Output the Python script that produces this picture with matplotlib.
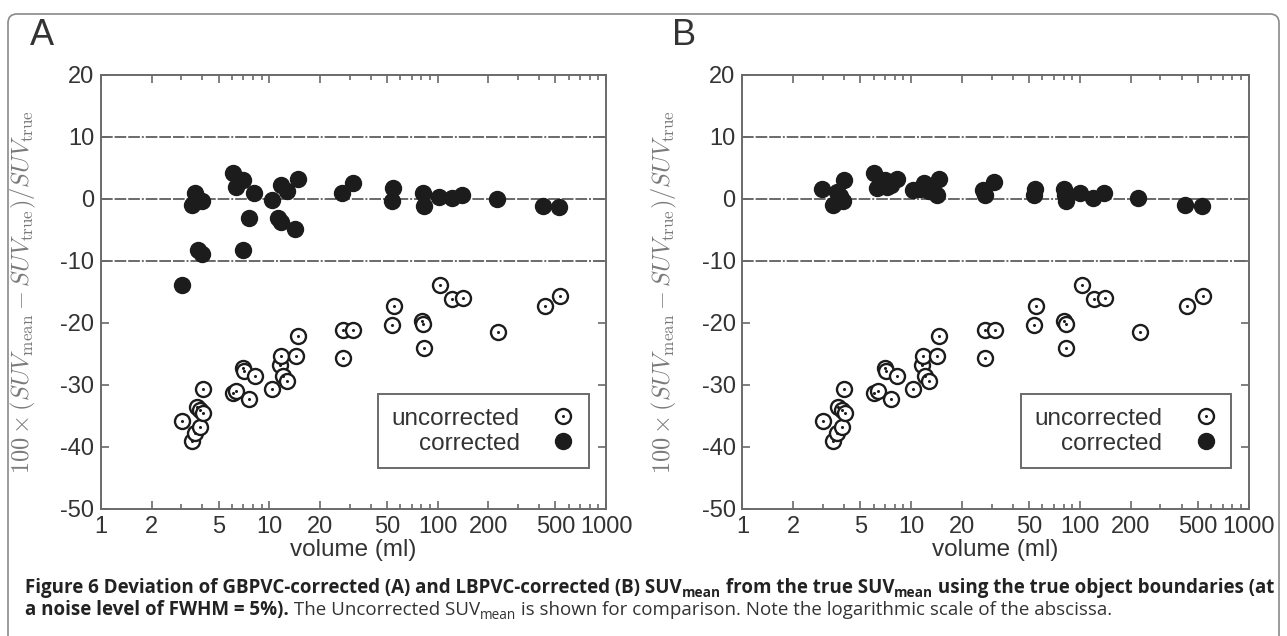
import matplotlib
matplotlib.use("Agg")
import matplotlib.pyplot as plt
from matplotlib.lines import Line2D
from matplotlib.patches import FancyBboxPatch
from matplotlib.transforms import IdentityTransform
from matplotlib.ticker import FixedLocator, NullFormatter

plt.rcParams['mathtext.fontset'] = 'cm'
plt.rcParams['font.family'] = 'Liberation Sans'

# uncorrected SUVmean deviation (same in both panels)
vol_unc = [3.02, 3.46, 3.62, 3.7, 3.87, 3.87, 4.05, 4.02,
           6.06, 6.34, 7.0, 7.1, 8.2, 7.6,
           10.3, 11.6, 11.7, 12.1, 12.8, 14.3, 14.7,
           27.2, 27.2, 31.3, 53.8, 54.7, 80.6, 82.2, 83.2, 103, 122, 141, 228, 431, 535]
dev_unc = [-35.8, -39.1, -37.8, -33.5, -34.0, -36.7, -34.5, -30.7,
           -31.3, -30.9, -27.3, -27.7, -28.5, -32.3,
           -30.7, -26.7, -25.4, -28.5, -29.3, -25.4, -22.1,
           -21.1, -25.6, -21.2, -20.4, -17.3, -19.7, -20.2, -24.1, -13.8, -16.1, -16.0, -21.5, -17.2, -15.7]

# GBPVC corrected (panel A)
vol_gb = [3.01, 3.46, 3.62, 3.7, 3.96, 3.79, 4.0,
          6.11, 6.34, 7.01, 7.0, 7.6, 8.15,
          10.4, 11.3, 11.7, 11.8, 12.7, 14.2, 14.7,
          26.9, 31.6, 53.4, 54.6, 82.2, 83, 102, 121, 139, 224, 425, 529]
dev_gb = [-13.9, -1.0, 0.9, 0.2, -0.4, -8.2, -8.9,
          4.2, 2.0, 3.1, -8.2, -3.1, 1.0,
          -0.1, -3.0, -3.7, 2.3, 1.3, -4.9, 3.3,
          1.0, 2.6, -0.4, 1.7, 1.0, -1.2, 0.4, 0.1, 0.6, -0.05, -1.1, -1.3]

# LBPVC corrected (panel B)
vol_lb = [2.95, 3.45, 3.62, 3.8, 3.95, 4.02,
          6.05, 6.3, 7.0, 7.2, 7.6, 8.2,
          10.3, 11.2, 11.7, 11.9, 12.7, 14.2, 14.6,
          26.8, 27.5, 31.0, 53.5, 54.5, 80.5, 81.5, 83, 100, 120, 138, 222, 420, 530]
dev_lb = [1.6, -1.0, 1.2, 0.5, -0.3, 3.1,
          4.2, 1.8, 3.0, 2.0, 2.2, 3.2,
          1.5, 1.6, 1.8, 2.5, 1.3, 0.7, 3.2,
          1.5, 0.6, 2.7, 0.6, 1.6, 1.6, 0.6, -0.4, 1.0, 0.1, 0.9, 0.2, -0.9, -1.2]

x_major = [1, 2, 5, 10, 20, 50, 100, 200, 500, 1000]
x_labels = ['1', '2', '5', '10', '20', '50', '100', '200', '500', '1000']
x_minor = [3, 4, 6, 7, 8, 9, 30, 40, 60, 70, 80, 90, 300, 400, 600, 700, 800, 900]
y_ticks = [-50, -40, -30, -20, -10, 0, 10, 20]
ref_lines = [-10, 0, 10]

fig = plt.figure(figsize=(12.87, 6.36), dpi=100)
axA = fig.add_axes([0.0785, 0.1997, 0.3924, 0.6824])
axB = fig.add_axes([0.5769, 0.1997, 0.3933, 0.6824])

grey = '#6a6a6a'
for ax, vol_c, dev_c, letter in [(axA, vol_gb, dev_gb, 'A'), (axB, vol_lb, dev_lb, 'B')]:
    ax.set_xscale('log')
    ax.set_xlim(1, 1000)
    ax.set_ylim(-50, 20)
    for yv in ref_lines:
        ax.axhline(yv, color=grey, lw=1.4, ls=(0, (6, 1, 6, 1, 6, 1, 1, 1)), zorder=1)
    ax.plot(vol_unc, dev_unc, ls='none', marker='o', ms=10.8, mfc='white',
            mec='#1c1c1c', mew=1.7, zorder=3)
    ax.plot(vol_unc, dev_unc, ls='none', marker='o', ms=2.2, mfc='#1c1c1c',
            mec='none', zorder=4)
    ax.plot(vol_c, dev_c, ls='none', marker='o', ms=11.5, mfc='#1c1c1c',
            mec='#1c1c1c', zorder=5)

    ax.xaxis.set_major_locator(FixedLocator(x_major))
    ax.xaxis.set_minor_locator(FixedLocator(x_minor))
    ax.xaxis.set_minor_formatter(NullFormatter())
    ax.set_xticklabels(x_labels)
    ax.set_yticks(y_ticks)
    ax.set_yticklabels([str(v) for v in y_ticks])
    ax.tick_params(which='both', direction='in', top=True, right=True,
                   colors=grey, labelcolor='#333333', labelsize=17, width=1.2)
    ax.tick_params(which='major', length=6, pad=5)
    ax.tick_params(which='minor', length=3.5)
    for s in ax.spines.values():
        s.set_color(grey)
        s.set_linewidth(1.4)

    ax.set_xlabel('volume (ml)', fontsize=17.5, color='#333333', labelpad=1)
    ax.set_ylabel(r'$100\times(SUV_{\rm mean}-SUV_{\rm true})/SUV_{\rm true}$',
                  fontsize=17.5, color='#7a7a7a')
    ax.yaxis.set_label_coords(-0.125, 0.5)
    ax.text(-0.14, 1.09, letter, transform=ax.transAxes, fontsize=26,
            color='#333333', va='center', ha='left')

    h_unc = (Line2D([], [], ls='none', marker='o', ms=10.8, mfc='white', mec='#1c1c1c', mew=1.7),
             Line2D([], [], ls='none', marker='o', ms=2.2, mfc='#1c1c1c', mec='none'))
    h_cor = Line2D([], [], ls='none', marker='o', ms=11.5, mfc='#1c1c1c', mec='#1c1c1c')
    leg = ax.legend([h_unc, h_cor], ['uncorrected', 'corrected'], loc='lower right',
                    bbox_to_anchor=(0.966, 0.0945), markerfirst=False, fontsize=17.5,
                    fancybox=False, edgecolor=grey, framealpha=1, handlelength=1.0,
                    handletextpad=1.3, labelspacing=0.12, borderpad=0.55, borderaxespad=0)
    leg.get_frame().set_linewidth(1.4)
    for t in leg.get_texts():
        t.set_color('#333333')

# rounded frame around the figure
frame = FancyBboxPatch((8, -30), 1271, 652, boxstyle='round,pad=0,rounding_size=9',
                       transform=IdentityTransform(), fill=False, edgecolor='#8a8a8a', lw=1.2)
fig.patches.append(frame)

# caption, drawn piece by piece
cap_font = 'Open Sans'
renderer = fig.canvas.get_renderer()


def caption_line(x, y, parts):
    for txt, bold, sub in parts:
        size = 9.8 if sub else 13.5
        yy = y - 4 if sub else y
        t = fig.text(x, yy, txt, transform=IdentityTransform(), fontsize=size,
                     fontfamily=cap_font, fontweight='bold' if bold else 'normal',
                     color='#222222' if bold else '#333333', va='baseline')
        x += t.get_window_extent(renderer).width


caption_line(25, 636 - 593, [
    ('Figure 6 Deviation of GBPVC-corrected (A) and LBPVC-corrected (B) SUV', True, False),
    ('mean', True, True),
    (' from the true SUV', True, False),
    ('mean', True, True),
    (' using the true object boundaries (at', True, False)])
caption_line(25, 636 - 615, [
    ('a noise level of FWHM = 5%).', True, False),
    (' The Uncorrected SUV', False, False),
    ('mean', False, True),
    (' is shown for comparison. Note the logarithmic scale of the abscissa.', False, False)])

fig.savefig('out.png', dpi=100)
